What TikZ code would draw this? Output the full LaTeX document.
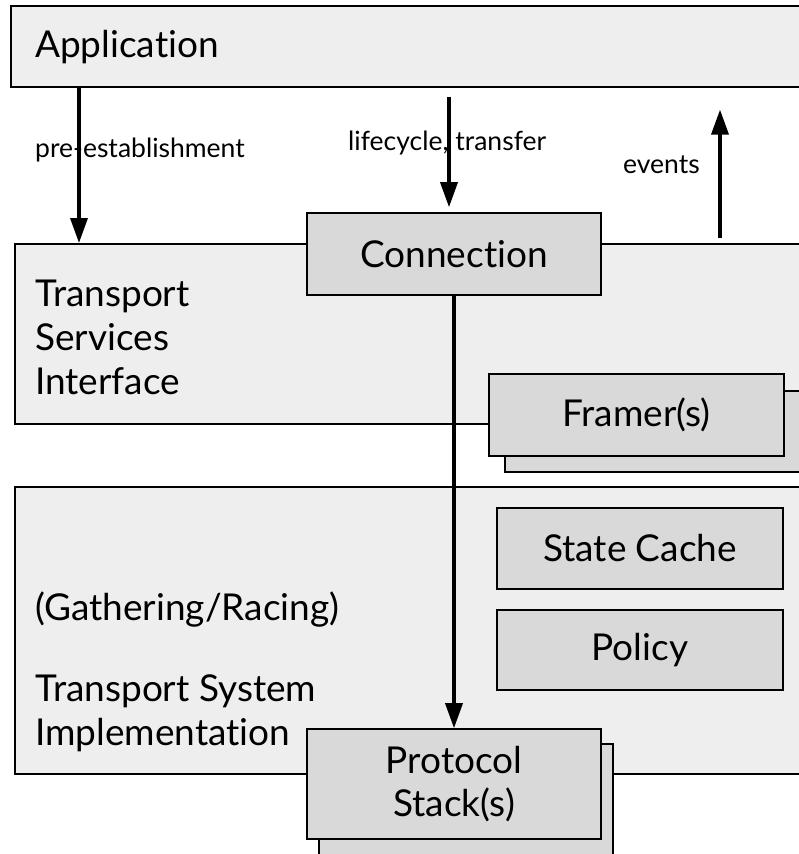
\documentclass[tikz,border=0pt]{standalone}
\usepackage{fontspec}
\setmainfont{Lato}[Ligatures=NoCommon]
\usetikzlibrary{arrows.meta,positioning}
\definecolor{layergray}{HTML}{EEEEEE}
\definecolor{blockgray}{HTML}{D9D9D9}

\tikzset{
  layer/.style={draw, line width=1.6pt, fill=layergray, inner sep=0pt, anchor=north west},
  block/.style={draw, line width=1.6pt, fill=blockgray, inner sep=0pt, align=center,
    font=\fontsize{37}{43}\selectfont},
  bigtext/.style={anchor=west, inner sep=0pt, align=left, font=\fontsize{37}{44}\selectfont},
  lbl/.style={anchor=west, inner sep=0pt, font=\fontsize{26.5}{30}\selectfont},
  flow/.style={line width=3.5pt, -{Triangle[width=17pt,length=25pt]}},
}

\begin{document}
\begin{tikzpicture}[x=1pt, y=-1pt]
    \useasboundingbox (0,0) rectangle (798,854);

    % layers
    \node [layer, minimum width=800, minimum height=81] (app) at (10,5) {};
    \node [layer, minimum width=796, minimum height=180] (tsi) at (14,243) {};
    \node [layer, minimum width=796, minimum height=287] (tsimpl) at (14,486) {};

    \node [bigtext] (apptext) at (35,47) {Application};
    \node [bigtext] (tsitext) at (35,337) {Transport\\Services\\Interface};
    \node [bigtext] (racing) at (35,610) {(Gathering/Racing)};
    \node [bigtext] (impltext) at (35,713) {Transport System\\Implementation};

    % blocks
    \node [block, minimum width=294, minimum height=82] (conn) at (454,254) {Connection};
    \node [block, minimum width=305, minimum height=81] (framerback) at (657.5,431.5) {};
    \node [block, minimum width=295, minimum height=82] (framer) at (636.5,415) {Framer(s)};
    \node [block, minimum width=286, minimum height=81] (cache) at (640,548.5) {State Cache};
    \node [block, minimum width=286, minimum height=80] (policy) at (640,650) {Policy};
    \node [block, minimum width=294, minimum height=126] (protoback) at (466,807) {};
    \node [block, minimum width=294, minimum height=110] (proto) at (454,784) {Protocol\\Stack(s)};

    % labels
    \node [lbl] (prelbl) at (35,150) {pre-establishment};
    \node [lbl] (lifelbl) at (348,143) {lifecycle, transfer};
    \node [lbl] (evlbl) at (623,165) {events};

    % arrows
    \coordinate (pretop) at ([xshift=69]app.south west);
    \coordinate (lifetop) at ([xshift=439,yshift=-9]app.south west);
    \coordinate (evtip) at ([xshift=710,yshift=-22]app.south west);
    \draw [flow] (pretop) -- (pretop |- tsi.north);
    \draw [flow] (lifetop) -- ([yshift=5]lifetop |- conn.north);
    \draw [flow] ([yshift=5]evtip |- tsi.north) -- (evtip);
    \draw [flow] (conn.south) -- (proto.north);
\end{tikzpicture}
\end{document}
